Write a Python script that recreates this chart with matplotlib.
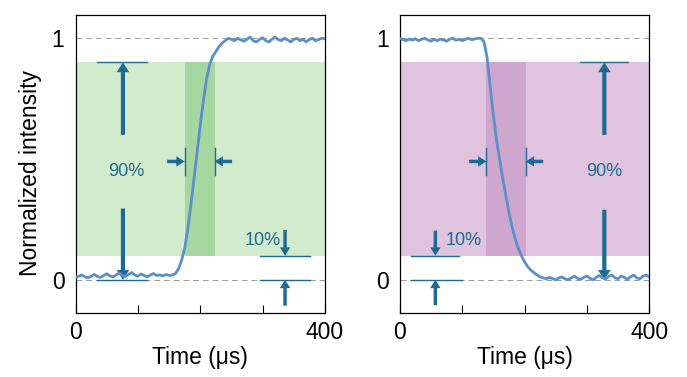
import matplotlib
matplotlib.use("Agg")
import matplotlib.pyplot as plt
from matplotlib.patches import FancyArrowPatch

plt.rcParams['font.family'] = ['Liberation Sans', 'DejaVu Sans']

# ---------------- data ----------------
time_us = [0, 5, 10, 15, 20, 25, 30, 35, 40, 45, 50, 55, 60, 65, 70, 75, 80, 85, 90, 95,
           100, 105, 110, 115, 120, 125, 130, 135, 140, 145, 150, 155, 160, 165, 170, 175,
           180, 185, 190, 195, 200, 205, 210, 215, 220, 225, 230, 235, 240, 245, 250, 255,
           260, 265, 270, 275, 280, 285, 290, 295, 300, 305, 310, 315, 320, 325, 330, 335,
           340, 345, 350, 355, 360, 365, 370, 375, 380, 385, 390, 395, 400]

rise_intensity = [0.010, 0.015, 0.020, 0.012, 0.008, 0.015, 0.022, 0.014, 0.010, 0.018,
                  0.025, 0.016, 0.012, 0.020, 0.028, 0.018, 0.014, 0.022, 0.030, 0.020,
                  0.015, 0.024, 0.018, 0.012, 0.020, 0.026, 0.018, 0.020, 0.016, 0.022,
                  0.018, 0.020, 0.025, 0.045, 0.080, 0.130, 0.210, 0.310, 0.420, 0.530,
                  0.640, 0.740, 0.830, 0.890, 0.925, 0.945, 0.965, 0.980, 0.990, 1.000,
                  0.995, 0.990, 1.000, 0.993, 0.988, 0.996, 1.005, 0.990, 0.985, 0.995,
                  1.002, 0.990, 0.985, 0.996, 1.005, 0.995, 0.990, 1.000, 0.993, 0.985,
                  0.995, 1.000, 0.990, 0.995, 0.985, 0.995, 1.000, 0.990, 0.995, 1.000, 0.998]

fall_intensity = [1.000, 0.995, 0.990, 0.997, 0.992, 0.998, 0.990, 0.996, 1.000, 0.993,
                  0.988, 0.996, 0.990, 0.997, 0.993, 0.988, 0.996, 1.000, 0.992, 0.996,
                  0.990, 0.995, 1.000, 0.994, 0.997, 1.000, 1.000, 0.985, 0.920, 0.800,
                  0.680, 0.580, 0.500, 0.420, 0.350, 0.280, 0.220, 0.170, 0.130, 0.100,
                  0.075, 0.055, 0.040, 0.030, 0.020, 0.012, 0.008, 0.004, 0.010, 0.005,
                  0.000, 0.008, 0.012, 0.004, 0.000, 0.008, 0.015, 0.006, 0.002, 0.010,
                  0.016, 0.006, 0.000, 0.010, 0.018, 0.008, 0.004, 0.014, 0.020, 0.008,
                  0.004, 0.016, 0.010, 0.002, 0.012, 0.020, 0.008, 0.004, 0.015, 0.020, 0.012]

level_low, level_high = 0.1, 0.9
rise_window = [175, 223]   # 10%-90% rise time window (µs)
fall_window = [139, 202]   # 90%-10% fall time window (µs)

x_ticks = [0, 100, 200, 300, 400]
x_tick_labels = ['0', '', '', '', '400']
y_ticks = [0, 1]
y_tick_labels = ['0', '1']

# ---------------- style ----------------
line_color = '#5a8fca'
arrow_color = '#1d6a93'
green_light, green_dark = '#d2ebcd', '#a7d7a0'
purple_light, purple_dark = '#e0c4df', '#cfa6cd'
FS = 16.5

fig = plt.figure(figsize=(6.87, 3.77), dpi=100)
axL = fig.add_axes([0.110, 0.170, 0.363, 0.790])
axR = fig.add_axes([0.582, 0.170, 0.363, 0.790])


def arrow(ax, x0, y0, x1, y1, tw=0.3, hw=0.9, hl=0.7):
    p = FancyArrowPatch((x0, y0), (x1, y1),
                        arrowstyle=f'simple,tail_width={tw},head_width={hw},head_length={hl}',
                        mutation_scale=10, color=arrow_color, lw=0,
                        shrinkA=0, shrinkB=0, zorder=5)
    ax.add_patch(p)


def hline(ax, y, x0, x1):
    ax.plot([x0, x1], [y, y], color=arrow_color, lw=1.0, zorder=4)


def setup(ax, light, dark, window, t, y):
    ax.set_xlim(0, 400)
    ax.set_ylim(-0.137, 1.096)
    ax.axhspan(level_low, level_high, color=light, lw=0, zorder=0)
    ax.fill_between(window, level_low, level_high, color=dark, lw=0, zorder=1)
    for yy in (0, 1):
        ax.axhline(yy, color='#9a9a9a', lw=0.7, ls=(0, (6, 4)), zorder=2)
    ax.plot(t, y, color=line_color, lw=2.0, zorder=6)
    ax.set_xticks(x_ticks)
    ax.set_xticklabels(x_tick_labels)
    ax.set_yticks(y_ticks)
    ax.set_yticklabels(y_tick_labels)
    ax.tick_params(axis='x', direction='in', length=6, width=0.8, labelsize=FS, pad=6)
    ax.tick_params(axis='y', direction='in', length=0, labelsize=FS, pad=8)
    for s in ax.spines.values():
        s.set_linewidth(0.9)
        s.set_color('black')
    ax.set_xlabel('Time (μs)', fontsize=FS, labelpad=1)
    # timing markers at band edges
    ymid = 0.49
    for xe in window:
        ax.plot([xe, xe], [ymid - 0.056, ymid + 0.056], color=arrow_color, lw=1.0, zorder=5)
    arrow(ax, window[0] - 28, ymid, window[0], ymid, tw=0.25, hw=0.75, hl=0.6)
    arrow(ax, window[1] + 28, ymid, window[1], ymid, tw=0.25, hw=0.75, hl=0.6)


setup(axL, green_light, green_dark, rise_window, time_us, rise_intensity)
setup(axR, purple_light, purple_dark, fall_window, time_us, fall_intensity)

axL.set_ylabel('Normalized intensity', fontsize=FS, labelpad=4)
axL.yaxis.set_label_coords(-0.135, 0.47)

# ---- left panel: 90% and 10% annotations ----
hline(axL, level_high, 34, 114)
hline(axL, 0, 34, 114)
arrow(axL, 76, 0.60, 76, level_high)
arrow(axL, 76, 0.295, 76, 0.0)
axL.text(82, 0.447, '90%', color=arrow_color, fontsize=13, ha='center', va='center')

hline(axL, level_low, 296, 376)
hline(axL, 0, 296, 376)
arrow(axL, 336, 0.207, 336, level_low, tw=0.25, hw=0.75, hl=0.6)
arrow(axL, 336, -0.107, 336, 0.0, tw=0.25, hw=0.75, hl=0.6)
axL.text(300, 0.163, '10%', color=arrow_color, fontsize=13, ha='center', va='center')

# ---- right panel ----
hline(axR, level_high, 289, 366)
arrow(axR, 328, 0.60, 328, level_high)
arrow(axR, 328, 0.29, 328, 0.0)
axR.text(328, 0.447, '90%', color=arrow_color, fontsize=13, ha='center', va='center')

hline(axR, level_low, 18, 95)
hline(axR, 0, 18, 100)
arrow(axR, 57, 0.204, 57, level_low, tw=0.25, hw=0.75, hl=0.6)
arrow(axR, 57, -0.105, 57, 0.0, tw=0.25, hw=0.75, hl=0.6)
axR.text(103, 0.163, '10%', color=arrow_color, fontsize=13, ha='center', va='center')

fig.savefig('out.png', dpi=100)
